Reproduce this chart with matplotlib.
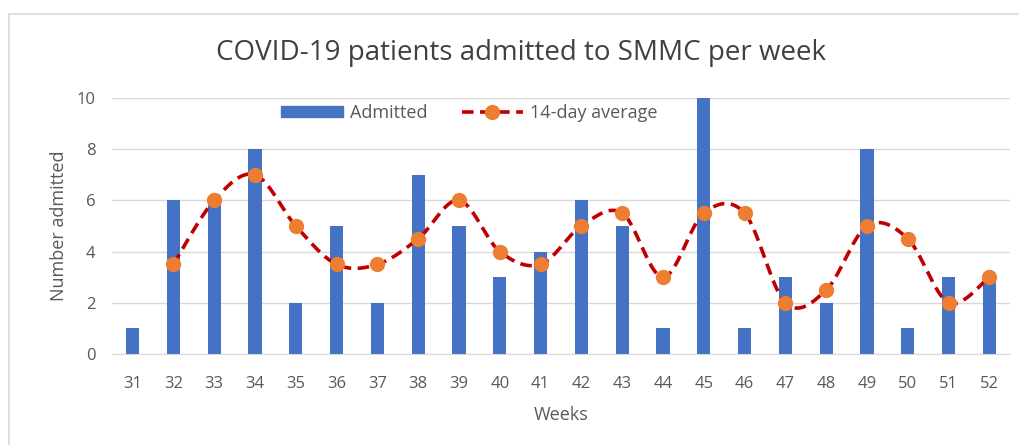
import numpy as np
import matplotlib
matplotlib.use("Agg")
import matplotlib.pyplot as plt
from matplotlib.lines import Line2D
from matplotlib.patches import Patch, Rectangle

plt.rcParams['font.family'] = ['Open Sans', 'DejaVu Sans']

weeks = [31, 32, 33, 34, 35, 36, 37, 38, 39, 40, 41, 42, 43, 44, 45, 46, 47, 48, 49, 50, 51, 52]
admitted = [1, 6, 6, 8, 2, 5, 2, 7, 5, 3, 4, 6, 5, 1, 10, 1, 3, 2, 8, 1, 3, 3]
avg_weeks = weeks[1:]
avg_14day = [3.5, 6, 7, 5, 3.5, 3.5, 4.5, 6, 4, 3.5, 5, 5.5, 3, 5.5, 5.5, 2, 2.5, 5, 4.5, 2, 3]

bar_color = '#4472C4'
line_color = '#C00000'
marker_color = '#ED7D31'
text_color = '#595959'
dash = (0, (3.2, 1.8))


def smooth(xs, ys, n=30):
    # catmull-rom like Excel's smoothed line
    x = np.asarray(xs, float)
    y = np.asarray(ys, float)
    px = np.concatenate([[x[0]], x, [x[-1]]])
    py = np.concatenate([[y[0]], y, [y[-1]]])
    outx, outy = [], []
    for i in range(1, len(px) - 2):
        p0, p1, p2, p3 = (px[i-1], py[i-1]), (px[i], py[i]), (px[i+1], py[i+1]), (px[i+2], py[i+2])
        c1 = (p1[0] + (p2[0] - p0[0]) / 6, p1[1] + (p2[1] - p0[1]) / 6)
        c2 = (p2[0] - (p3[0] - p1[0]) / 6, p2[1] - (p3[1] - p1[1]) / 6)
        t = np.linspace(0, 1, n)
        for a, b in ((0, outx), (1, outy)):
            b.extend((1-t)**3 * p1[a] + 3*(1-t)**2*t * c1[a] + 3*(1-t)*t**2 * c2[a] + t**3 * p2[a])
    return outx, outy


fig = plt.figure(figsize=(10.2, 4.45), dpi=100)
ax = fig.add_axes([0.11, 0.2045, 0.88, 0.5755])

x = np.arange(len(weeks))
ax.bar(x, admitted, width=0.32, color=bar_color, zorder=2)

ax_pos = {w: i for i, w in enumerate(weeks)}
ax_x = [ax_pos[w] for w in avg_weeks]
sx, sy = smooth(ax_x, avg_14day)
ax.plot(sx, sy, color=line_color, lw=2.6, ls=dash, zorder=3)
ax.plot(ax_x, avg_14day, 'o', color=marker_color, ms=10, zorder=4)

ax.set_xlim(-0.5, len(weeks) - 0.5)
ax.set_ylim(0, 10)
ax.set_yticks(range(0, 11, 2))
ax.set_xticks(x)
ax.set_xticklabels([str(w) for w in weeks])
ax.yaxis.grid(True, color='#D9D9D9', lw=1)
ax.set_axisbelow(True)
for s in ['top', 'right', 'left']:
    ax.spines[s].set_visible(False)
ax.spines['bottom'].set_color('#D9D9D9')
ax.tick_params(length=0, labelsize=12, colors=text_color)
ax.tick_params(axis='x', pad=16)
ax.tick_params(axis='y', pad=12)

ax.set_xlabel('Weeks', fontsize=13, color=text_color, labelpad=10)
ax.set_ylabel('Number admitted', fontsize=13, color=text_color, labelpad=6)
fig.text(0.511, 0.882, 'COVID-19 patients admitted to SMMC per week', ha='center', va='center',
         fontsize=20, color='#404040')

handles = [Patch(color=bar_color),
           Line2D([0], [0], color=line_color, lw=2.6, ls=dash, marker='o',
                  markerfacecolor=marker_color, markeredgecolor=marker_color, ms=10)]
leg = ax.legend(handles, ['Admitted', '14-day average'], loc='upper center',
                bbox_to_anchor=(0.398, 1.04), ncol=2, frameon=False, fontsize=13,
                handlelength=3.4, handleheight=0.55, columnspacing=1.9, handletextpad=0.4)
for t in leg.get_texts():
    t.set_color(text_color)

fig.patches.append(Rectangle((9 / 1020, -0.01), 1.02, 1 - 14 / 445 + 0.01, transform=fig.transFigure,
                             fill=False, edgecolor='#D9D9D9', lw=1.2))

fig.savefig('out.png', dpi=100)
